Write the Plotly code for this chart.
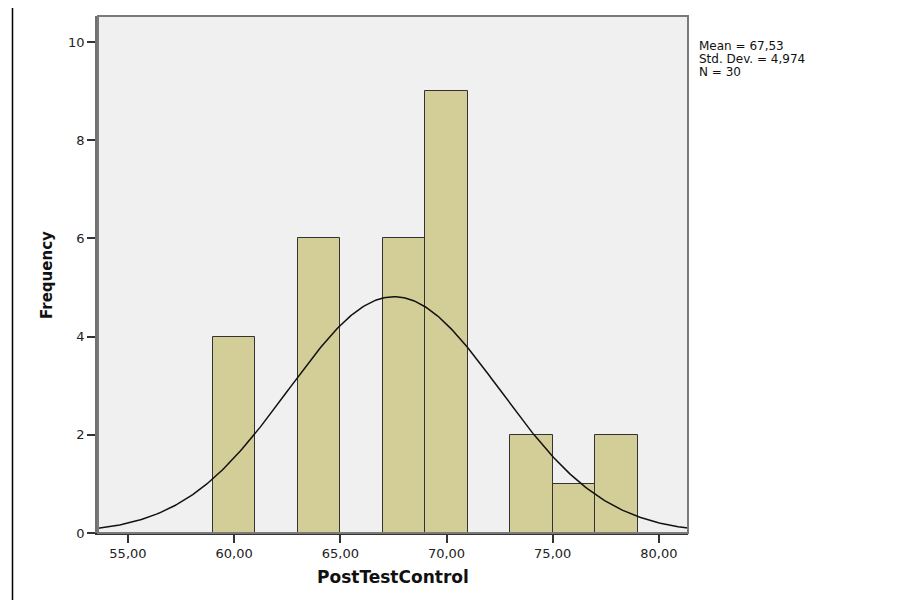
import numpy as np
import plotly.graph_objects as go

# ---- data ----
bin_starts = [59, 63, 67, 69, 73, 75, 77]
counts = [4, 6, 6, 9, 2, 1, 2]
bin_width = 2
mean_val = 67.53
sd_val = 4.974
n_val = 30
x_ticks = [55, 60, 65, 70, 75, 80]
x_ticktext = ["55,00", "60,00", "65,00", "70,00", "75,00", "80,00"]
y_ticks = [0, 2, 4, 6, 8, 10]
x_range = [53.59, 81.37]
y_range = [0, 10.53]

centers = [s + bin_width / 2 for s in bin_starts]

# fitted normal curve from the reported statistics
xs = np.linspace(x_range[0], x_range[1], 300)
ys = n_val * bin_width / (sd_val * np.sqrt(2 * np.pi)) * np.exp(-0.5 * ((xs - mean_val) / sd_val) ** 2)

FONT = "DejaVu Sans"

# page body has an 8px margin; plot area should span x 98..688, y 16..533
OFF = 8
PL, PR, PT, PB = 98, 688, 16, 533
PW, PH = PR - PL, PB - PT


def px(x):
    return (x - PL) / PW


def py(y):
    return (PB - y) / PH


fig = go.Figure()
fig.add_trace(go.Bar(
    x=centers, y=counts, width=[bin_width] * len(centers),
    marker=dict(color="#d3ce97", line=dict(color="#333333", width=1)),
    hoverinfo="x+y", showlegend=False,
))
fig.add_trace(go.Scatter(
    x=xs, y=ys, mode="lines", line=dict(color="#111111", width=1.5),
    showlegend=False, hoverinfo="skip",
))

fig.update_layout(
    width=908 - OFF, height=600 - OFF,
    margin=dict(l=PL - OFF, r=908 - PR, t=PT - OFF, b=600 - PB),
    paper_bgcolor="white", plot_bgcolor="#f0f0f0",
    bargap=0,
    font=dict(family=FONT, size=13, color="#222222"),
    xaxis=dict(
        range=x_range, tickvals=x_ticks, ticktext=x_ticktext,
        ticks="outside", ticklen=8, tickcolor="#333333", tickwidth=1.5,
        showgrid=False, zeroline=False, showline=True, linecolor="#333333", linewidth=1.5,
        tickfont=dict(family=FONT, size=13, color="#222222"),
    ),
    yaxis=dict(
        range=y_range, tickvals=y_ticks,
        ticks="outside", ticklen=8, tickcolor="#333333", tickwidth=1.5,
        showgrid=False, zeroline=False, showline=True, linecolor="#707070", linewidth=2.5,
        tickfont=dict(family=FONT, size=13, color="#222222"),
    ),
    shapes=[
        dict(type="rect", xref="paper", yref="paper", x0=0, x1=1, y0=0, y1=1,
             line=dict(color="#7a7a7a", width=2), layer="above"),
        dict(type="line", xref="paper", yref="paper",
             x0=px(12.5), x1=px(12.5), y0=py(8), y1=py(600),
             line=dict(color="#000000", width=1.5)),
    ],
    annotations=[
        dict(text="<b>PostTestControl</b>", xref="paper", yref="paper",
             x=0.5, y=py(577), xanchor="center", yanchor="middle",
             showarrow=False, font=dict(family=FONT, size=17, color="#111111")),
        dict(text="<b>Frequency</b>", xref="paper", yref="paper",
             x=px(47), y=py(275), xanchor="center", yanchor="middle",
             textangle=-90, showarrow=False, font=dict(family=FONT, size=15, color="#111111")),
        dict(text=f"Mean = {mean_val:.2f}".replace(".", ","), xref="paper", yref="paper",
             x=px(697), y=py(46), xanchor="left", yanchor="middle",
             showarrow=False, font=dict(family=FONT, size=12, color="#111111")),
        dict(text=f"Std. Dev. = {sd_val:.3f}".replace("= 4.", "= 4,"), xref="paper", yref="paper",
             x=px(697), y=py(59), xanchor="left", yanchor="middle",
             showarrow=False, font=dict(family=FONT, size=12, color="#111111")),
        dict(text=f"N = {n_val}", xref="paper", yref="paper",
             x=px(697), y=py(72), xanchor="left", yanchor="middle",
             showarrow=False, font=dict(family=FONT, size=12, color="#111111")),
    ],
)

fig.write_html("out.html")
